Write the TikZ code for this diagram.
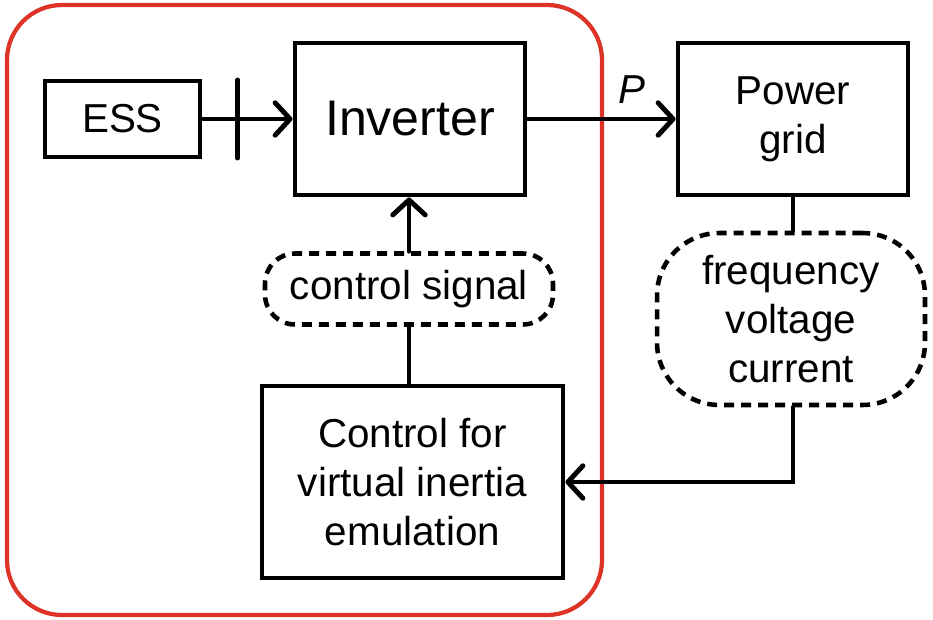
\documentclass[tikz,border=0pt]{standalone}
\usepackage{fontspec}
\setmainfont{Liberation Sans}
\usepackage{tikz}
\usetikzlibrary{arrows.meta,calc,positioning}
\definecolor{framered}{RGB}{222,52,40}

\begin{document}
\begin{tikzpicture}[x=0.02cm,y=-0.02cm,
    blk/.style={draw,line width=2.8pt,font=\fontsize{23}{28}\selectfont,align=center,inner sep=0pt},
    sig/.style={draw,line width=2.6pt,dash pattern=on 0.2cm off 0.14cm,font=\fontsize{23}{28}\selectfont,align=center,inner sep=0pt},
    conn/.style={line width=2.8pt,line cap=round},
    arr/.style={conn,-{Straight Barb[length=3mm,width=6.5mm,round]}}]
  \useasboundingbox (0,0) rectangle (933,619);

  % frame round the inverter side
  \draw[framered,line width=2.4pt,rounded corners=1.1cm] (7,5) rectangle (602,615);

  \node[blk,minimum width=3.1cm,minimum height=1.52cm] (ess) at (122.5,119) {ESS};
  \node[blk,minimum width=4.6cm,minimum height=3.04cm,font=\fontsize{28.5}{34}\selectfont] (inv) at (410,119) {Inverter};
  \node[blk,minimum width=4.6cm,minimum height=3.04cm] (grid) at (793,119) {Power\\grid};
  \node[sig,minimum width=5.76cm,minimum height=1.42cm,rounded corners=0.6cm] (cs) at (409,289) {control signal};
  \node[sig,minimum width=5.36cm,minimum height=3.44cm,rounded corners=1.25cm] (meas) at (791,319) {frequency\\voltage\\current};
  \node[blk,minimum width=6.02cm,minimum height=3.84cm] (ctrl) at (412.5,482) {Control for\\virtual inertia\\emulation};
  \node[font=\fontsize{23}{28}\selectfont\itshape] (p) at (632,90) {P};

  \draw[arr] (ess) -- (inv);
  \coordinate (tick) at ($(ess.east)!0.39!(inv.west)$);
  \draw[conn] ($(tick)+(0,-39)$) -- ($(tick)+(0,39)$);
  \draw[arr] (inv) -- (grid);
  \draw[conn] (grid.south) -- (grid.south |- meas.north);
  \draw[arr] (grid.south |- meas.south) |- (ctrl.east);
  \draw[conn] (cs.south) -- (cs.south |- ctrl.north);
  \draw[arr] (cs.north) -- (cs.north |- inv.south);
\end{tikzpicture}
\end{document}
